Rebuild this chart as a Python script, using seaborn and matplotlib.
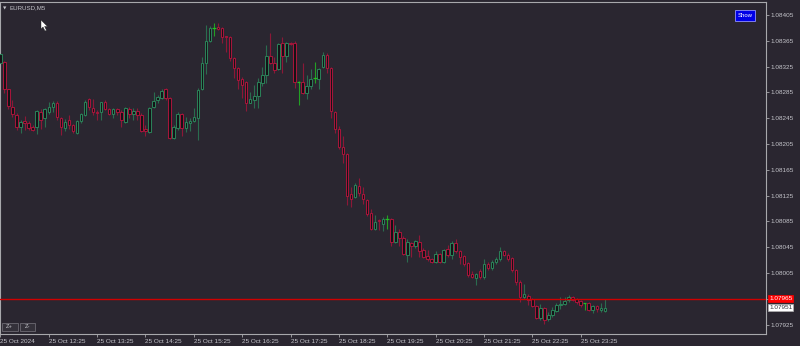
import matplotlib
matplotlib.use("Agg")
import matplotlib.pyplot as plt
import seaborn as sns
import numpy as np
import pandas as pd
from matplotlib.patches import Rectangle, Polygon
from matplotlib.transforms import blended_transform_factory

# ---------------- data ----------------
symbol = "EURUSD,M5"
opens = [
    1.08331, 1.08332, 1.08290, 1.08262, 1.08250, 1.08231, 1.08241, 1.08238, 1.08231, 1.08231,
    1.08255, 1.08245, 1.08255, 1.08262, 1.08269, 1.08245, 1.08230, 1.08242, 1.08234, 1.08222,
    1.08241, 1.08250, 1.08275, 1.08261, 1.08255, 1.08255, 1.08270, 1.08259, 1.08252, 1.08259,
    1.08255, 1.08239, 1.08259, 1.08252, 1.08256, 1.08250, 1.08228, 1.08224, 1.08262, 1.08273,
    1.08276, 1.08290, 1.08276, 1.08214, 1.08230, 1.08252, 1.08230, 1.08238, 1.08241, 1.08245,
    1.08290, 1.08331, 1.08365, 1.08385, 1.08386, 1.08385, 1.08372, 1.08371, 1.08338, 1.08323,
    1.08306, 1.08301, 1.08269, 1.08273, 1.08279, 1.08300, 1.08312, 1.08341, 1.08331, 1.08321,
    1.08362, 1.08341, 1.08362, 1.08362, 1.08301, 1.08301, 1.08284, 1.08295, 1.08307, 1.08306,
    1.08324, 1.08343, 1.08323, 1.08255, 1.08228, 1.08200, 1.08190, 1.08128, 1.08123, 1.08140,
    1.08128, 1.08118, 1.08098, 1.08073, 1.08087, 1.08081, 1.08089, 1.08089, 1.08053, 1.08069,
    1.08059, 1.08033, 1.08052, 1.08047, 1.08053, 1.08041, 1.08031, 1.08027, 1.08022, 1.08035,
    1.08022, 1.08042, 1.08033, 1.08052, 1.08039, 1.08031, 1.08021, 1.08004, 1.07997, 1.08008,
    1.07999, 1.08019, 1.08013, 1.08022, 1.08027, 1.08039, 1.08033, 1.08028, 1.08010, 1.07991,
    1.07968, 1.07969, 1.07965, 1.07954, 1.07935, 1.07951, 1.07934, 1.07940, 1.07946, 1.07955,
    1.07957, 1.07963, 1.07968, 1.07965, 1.07962, 1.07959, 1.07959, 1.07948, 1.07954, 1.07948,
    1.07946,
]
highs = [
    1.08349, 1.08334, 1.08290, 1.08273, 1.08253, 1.08242, 1.08248, 1.08241, 1.08234, 1.08258,
    1.08259, 1.08261, 1.08270, 1.08272, 1.08272, 1.08247, 1.08244, 1.08250, 1.08236, 1.08242,
    1.08253, 1.08273, 1.08276, 1.08275, 1.08258, 1.08270, 1.08273, 1.08261, 1.08261, 1.08261,
    1.08258, 1.08262, 1.08262, 1.08261, 1.08261, 1.08253, 1.08234, 1.08262, 1.08286, 1.08281,
    1.08290, 1.08292, 1.08278, 1.08234, 1.08255, 1.08253, 1.08247, 1.08245, 1.08261, 1.08292,
    1.08340, 1.08390, 1.08388, 1.08393, 1.08393, 1.08386, 1.08373, 1.08372, 1.08340, 1.08324,
    1.08309, 1.08303, 1.08286, 1.08296, 1.08307, 1.08324, 1.08359, 1.08377, 1.08340, 1.08362,
    1.08371, 1.08363, 1.08363, 1.08365, 1.08303, 1.08331, 1.08312, 1.08321, 1.08332, 1.08323,
    1.08348, 1.08346, 1.08324, 1.08256, 1.08233, 1.08217, 1.08191, 1.08138, 1.08145, 1.08152,
    1.08138, 1.08120, 1.08104, 1.08095, 1.08089, 1.08092, 1.08095, 1.08090, 1.08079, 1.08073,
    1.08062, 1.08058, 1.08053, 1.08056, 1.08064, 1.08044, 1.08041, 1.08028, 1.08039, 1.08036,
    1.08042, 1.08048, 1.08055, 1.08058, 1.08041, 1.08033, 1.08022, 1.08008, 1.08005, 1.08011,
    1.08027, 1.08022, 1.08025, 1.08030, 1.08045, 1.08041, 1.08036, 1.08030, 1.08011, 1.07994,
    1.07988, 1.07973, 1.07966, 1.07955, 1.07957, 1.07952, 1.07945, 1.07952, 1.07959, 1.07968,
    1.07968, 1.07971, 1.07969, 1.07966, 1.07963, 1.07959, 1.07960, 1.07955, 1.07955, 1.07959,
    1.07965,
]
lows = [
    1.08326, 1.08284, 1.08259, 1.08247, 1.08227, 1.08222, 1.08227, 1.08227, 1.08225, 1.08221,
    1.08228, 1.08231, 1.08252, 1.08255, 1.08242, 1.08219, 1.08225, 1.08228, 1.08222, 1.08221,
    1.08238, 1.08248, 1.08258, 1.08250, 1.08242, 1.08242, 1.08258, 1.08250, 1.08245, 1.08250,
    1.08231, 1.08238, 1.08245, 1.08242, 1.08242, 1.08224, 1.08217, 1.08222, 1.08261, 1.08269,
    1.08275, 1.08273, 1.08213, 1.08213, 1.08227, 1.08217, 1.08224, 1.08225, 1.08239, 1.08211,
    1.08289, 1.08314, 1.08363, 1.08372, 1.08382, 1.08362, 1.08348, 1.08334, 1.08307, 1.08290,
    1.08276, 1.08256, 1.08268, 1.08261, 1.08261, 1.08295, 1.08300, 1.08329, 1.08315, 1.08320,
    1.08315, 1.08332, 1.08359, 1.08292, 1.08265, 1.08283, 1.08275, 1.08290, 1.08300, 1.08290,
    1.08323, 1.08315, 1.08245, 1.08222, 1.08197, 1.08176, 1.08110, 1.08107, 1.08121, 1.08124,
    1.08112, 1.08093, 1.08072, 1.08072, 1.08072, 1.08070, 1.08073, 1.08047, 1.08052, 1.08047,
    1.08033, 1.08022, 1.08030, 1.08044, 1.08030, 1.08028, 1.08024, 1.08021, 1.08021, 1.08021,
    1.08021, 1.08030, 1.08027, 1.08036, 1.08019, 1.08016, 1.07999, 1.07997, 1.07986, 1.07996,
    1.07996, 1.08010, 1.08010, 1.08019, 1.08024, 1.08031, 1.08024, 1.08007, 1.07986, 1.07960,
    1.07965, 1.07955, 1.07952, 1.07934, 1.07932, 1.07926, 1.07931, 1.07937, 1.07945, 1.07949,
    1.07955, 1.07960, 1.07962, 1.07957, 1.07952, 1.07948, 1.07946, 1.07943, 1.07945, 1.07945,
    1.07945,
]
closes = [
    1.08345, 1.08290, 1.08264, 1.08252, 1.08231, 1.08239, 1.08238, 1.08230, 1.08227, 1.08256,
    1.08242, 1.08259, 1.08262, 1.08269, 1.08247, 1.08231, 1.08239, 1.08234, 1.08225, 1.08241,
    1.08252, 1.08270, 1.08262, 1.08255, 1.08253, 1.08270, 1.08259, 1.08252, 1.08259, 1.08255,
    1.08242, 1.08261, 1.08252, 1.08256, 1.08250, 1.08225, 1.08225, 1.08261, 1.08272, 1.08278,
    1.08287, 1.08276, 1.08214, 1.08231, 1.08252, 1.08230, 1.08239, 1.08241, 1.08247, 1.08289,
    1.08331, 1.08365, 1.08385, 1.08385, 1.08383, 1.08371, 1.08371, 1.08338, 1.08323, 1.08304,
    1.08296, 1.08269, 1.08275, 1.08279, 1.08301, 1.08312, 1.08341, 1.08331, 1.08320, 1.08360,
    1.08341, 1.08362, 1.08360, 1.08301, 1.08301, 1.08284, 1.08295, 1.08306, 1.08307, 1.08321,
    1.08343, 1.08323, 1.08256, 1.08228, 1.08200, 1.08190, 1.08124, 1.08120, 1.08141, 1.08129,
    1.08120, 1.08097, 1.08073, 1.08084, 1.08086, 1.08089, 1.08089, 1.08053, 1.08069, 1.08059,
    1.08035, 1.08053, 1.08047, 1.08055, 1.08039, 1.08030, 1.08027, 1.08022, 1.08035, 1.08022,
    1.08041, 1.08033, 1.08052, 1.08039, 1.08030, 1.08019, 1.08002, 1.07999, 1.08004, 1.07999,
    1.08019, 1.08013, 1.08022, 1.08027, 1.08039, 1.08033, 1.08027, 1.08010, 1.07991, 1.07968,
    1.07973, 1.07963, 1.07954, 1.07935, 1.07951, 1.07932, 1.07940, 1.07948, 1.07955, 1.07957,
    1.07962, 1.07968, 1.07963, 1.07960, 1.07955, 1.07959, 1.07948, 1.07954, 1.07949, 1.07951,
    1.07951,
]
time_labels = ["25 Oct 2024", "25 Oct 12:25", "25 Oct 13:25", "25 Oct 14:25", "25 Oct 15:25",
               "25 Oct 16:25", "25 Oct 17:25", "25 Oct 18:25", "25 Oct 19:25", "25 Oct 20:25",
               "25 Oct 21:25", "25 Oct 22:25", "25 Oct 23:25"]
bars_per_label = 12
price_ticks = [1.08405, 1.08365, 1.08325, 1.08285, 1.08245, 1.08205, 1.08165,
               1.08125, 1.08085, 1.08045, 1.08005, 1.07965, 1.07925]
ask_price = 1.07965
bid_price = 1.07951

# ---------------- style ----------------
sns.set_theme(style="dark")
plt.rcParams["font.family"] = ["Liberation Sans", "DejaVu Sans"]

BG = "#2a2630"
GRID_FG = "#a8a8ac"
TXT = "#c4c4ca"
BULL = "#2a7f57"
BEAR = "#a5153a"
DOJI = "#22c022"
BODY_FILL = "#131216"

W, H = 800, 346
fig = plt.figure(figsize=(W / 100, H / 100), dpi=100, facecolor=BG)
ax = fig.add_axes([0.0, 12 / H, 766 / W, 332 / H])
ax.set_facecolor(BG)

df = pd.DataFrame({"open": opens, "high": highs, "low": lows, "close": closes})
df["idx"] = np.arange(len(df))
df["doji"] = (df["close"] - df["open"]).abs() < 1e-7
df["bull"] = df["close"] > df["open"]
df["color"] = np.where(df["doji"], DOJI, np.where(df["bull"], BULL, BEAR))

# wicks
ax.vlines(df["idx"], df["low"], df["high"], colors=df["color"], linewidth=0.8,
          alpha=0.8, zorder=2)
# bodies
nd = df[~df["doji"]]
ax.bar(nd["idx"], (nd["close"] - nd["open"]).abs(),
       bottom=np.minimum(nd["open"], nd["close"]), width=0.62,
       facecolor=BODY_FILL, edgecolor=nd["color"], linewidth=0.75, zorder=3)
# doji
dj = df[df["doji"]]
ax.hlines(dj["open"], dj["idx"] - 0.45, dj["idx"] + 0.45, colors=DOJI,
          linewidth=0.9, zorder=3)

# ask line
ax.axhline(ask_price, color="#d00000", linewidth=1.0, zorder=4)

ax.set_xlim(-0.1, 190.0)
ax.set_ylim(1.079106, 1.084252)

# x ticks
ax.set_xticks(np.arange(len(time_labels)) * bars_per_label)
ax.set_xticklabels(time_labels, ha="left")
ax.tick_params(axis="x", length=2.5, width=0.6, direction="out", pad=1.2,
               colors=GRID_FG, labelcolor=TXT, labelsize=4.6, bottom=True)
# y ticks on right (the tick under the ask-price label is hidden by that label)
ax.yaxis.tick_right()
ax.set_yticks(price_ticks)
ax.set_yticklabels(["" if abs(v - ask_price) < 1e-7 else f"{v:.5f}" for v in price_ticks])
ax.tick_params(axis="y", length=2, width=0.6, direction="out", pad=1.5,
               colors=GRID_FG, labelcolor=TXT, labelsize=4.6, right=True, left=False)
ax.grid(False)
for s in ax.spines.values():
    s.set_visible(True)
    s.set_color(GRID_FG)
    s.set_linewidth(0.8)

# price labels at the right
tr = blended_transform_factory(ax.transAxes, ax.transData)
ax.text(1.004, ask_price, f"{ask_price:.5f}", transform=tr, ha="left", va="center",
        fontsize=4.6, color="white", zorder=10, clip_on=False,
        bbox=dict(boxstyle="square,pad=0.16", fc="#ff0000", ec="#ff0000", lw=0.5))
ax.text(1.004, bid_price, f"{bid_price:.5f}", transform=tr, ha="left", va="center",
        fontsize=4.6, color="#303038", zorder=10, clip_on=False,
        bbox=dict(boxstyle="square,pad=0.16", fc="white", ec="#b0b0b0", lw=0.5))

# title
fig.text(3 / W, 1 - 8 / H, "\u25BC", fontsize=3.2, color=TXT, va="center", ha="left",
         family="DejaVu Sans")
fig.text(10 / W, 1 - 8 / H, symbol, fontsize=4.4, color=TXT, va="center", ha="left")

# Show button
fig.patches.append(Rectangle((735 / W, 1 - 21 / H), 20 / W, 11 / H, transform=fig.transFigure,
                             facecolor="#0000e6", edgecolor="#9090ff", linewidth=0.6))
fig.text(745 / W, 1 - 15.5 / H, "Show", fontsize=4.3, color="white", ha="center", va="center")

# Z+ / Z- buttons
for x0, lab in [(2, "Z+"), (19.5, "Z-")]:
    fig.patches.append(Rectangle((x0 / W, 1 - 331 / H), 15.5 / W, 8 / H,
                                 transform=fig.transFigure, facecolor="#34313a",
                                 edgecolor="#6c6a72", linewidth=0.6))
    fig.text((x0 + 7.7) / W, 1 - 327 / H, lab, fontsize=4.2, color=TXT,
             ha="center", va="center")

# mouse cursor
cur = [(41, 20), (41, 29), (43, 27), (45, 31), (46.5, 30.3), (44.6, 26.5), (47.5, 26.5)]
fig.patches.append(Polygon([(x / W, 1 - y / H) for x, y in cur], closed=True,
                           transform=fig.transFigure, facecolor="white",
                           edgecolor="#202020", linewidth=0.3))

fig.savefig("out.png", dpi=100, facecolor=BG)
